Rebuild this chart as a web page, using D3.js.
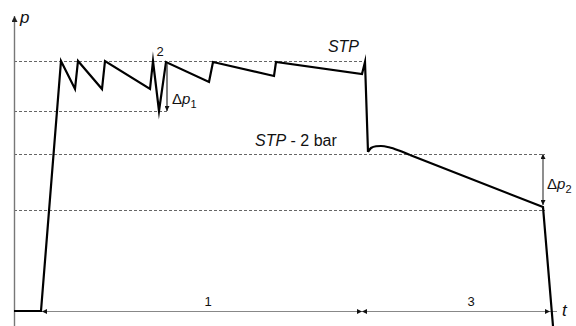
<!DOCTYPE html>
<html>
<head>
<meta charset="utf-8">
<script src="https://cdn.jsdelivr.net/npm/d3@7"></script>
<style>
  html, body { margin: 0; padding: 0; background: #fff; }
  svg { display: block; }
  text { font-family: "Liberation Sans", Arial, sans-serif; fill: #111; }
</style>
</head>
<body>
<svg id="chart" width="576" height="326"></svg>
<script>
// Pressure profile over time (schematic units: t in s, p in % of the upper level)
const profileT = [0, 5.4, 9.4, 12.2, 12.8, 17.6, 18.2, 27.2, 27.8, 29.0, 30.4, 39.0, 39.8, 52.0, 52.4, 69.6, 70.2, 70.8];
const profileP = [0, 0, 100, 88.8, 100, 88.8, 100, 88.8, 100, 80, 99.6, 91.6, 99.6, 94.0, 99.6, 94.8, 99.6, 63.6];

// Small rise after the pressure drop, then the slow decay
const humpT = [70.8, 71.4, 72.4, 73.4, 75.0, 77.0, 79.2];
const humpP = [63.6, 65.2, 65.9, 66.0, 65.5, 64.2, 62.4];
const decayT = [79.2, 105.8, 107.8];
const decayP = [62.4, 41.6, -6];

// Dashed reference levels and how far they run
const levelP = [100, 80, 62.8, 40.4];
const levelEndT = [70.2, 30.6, 106.2, 106.2];

// Phase dimension lines along the time axis
const phaseFrom = [5.6, 69.6];
const phaseTo = [69.6, 107.2];
const phaseLabel = ["1", "3"];
const phaseLabelT = [38.8, 91.4];

// Pressure differences
const deltaT = [30.6, 105.8];
const deltaTop = [99.2, 62.8];
const deltaBottom = [80, 42.4];

const svg = d3.select("#chart");
const x = d3.scaleLinear().domain([0, 110]).range([14, 564]);
const y = d3.scaleLinear().domain([0, 100]).range([311, 61]);

const defs = svg.append("defs");
function marker(id, color, w, h) {
  defs.append("marker")
    .attr("id", id)
    .attr("viewBox", "0 0 10 10")
    .attr("refX", 10).attr("refY", 5)
    .attr("markerUnits", "userSpaceOnUse")
    .attr("markerWidth", w).attr("markerHeight", h)
    .attr("orient", "auto-start-reverse")
    .append("path")
    .attr("d", "M0,0 L10,5 L0,10 Z")
    .attr("fill", color);
}
marker("arrowAxis", "#222", 7, 6);
marker("arrowDim", "#111", 6, 5);

// dashed reference levels
svg.append("g").selectAll("line")
  .data(levelP)
  .join("line")
  .attr("x1", x(0))
  .attr("x2", (d, i) => x(levelEndT[i]))
  .attr("y1", d => Math.round(y(d)) + 0.5)
  .attr("y2", d => Math.round(y(d)) + 0.5)
  .attr("stroke", "#666")
  .attr("stroke-width", 1)
  .attr("stroke-dasharray", "3,2");

// time axis line (gray)
svg.append("line")
  .attr("x1", x(0)).attr("x2", x(108.6))
  .attr("y1", y(0) + 0.5).attr("y2", y(0) + 0.5)
  .attr("stroke", "#888").attr("stroke-width", 1.2);

// pressure axis with arrow
svg.append("line")
  .attr("x1", x(0) + 0.5).attr("x2", x(0) + 0.5)
  .attr("y1", 326).attr("y2", 16)
  .attr("stroke", "#777").attr("stroke-width", 1.4)
  .attr("marker-end", "url(#arrowAxis)");

// phase dimension arrows
phaseFrom.forEach((f, i) => {
  svg.append("line")
    .attr("x1", x(f)).attr("x2", x(phaseTo[i]))
    .attr("y1", y(0) + 0.5).attr("y2", y(0) + 0.5)
    .attr("stroke", "none")
    .attr("marker-start", "url(#arrowDim)")
    .attr("marker-end", "url(#arrowDim)");
  svg.append("text")
    .attr("x", x(phaseLabelT[i]))
    .attr("y", y(0) - 5)
    .attr("text-anchor", "middle")
    .attr("font-size", 13)
    .attr("fill", "#333")
    .text(phaseLabel[i]);
});

// pressure profile
const line = d3.line().x(d => x(d[0])).y(d => y(d[1]));
const curve = d3.line().x(d => x(d[0])).y(d => y(d[1])).curve(d3.curveMonotoneX);
const stroke = (sel) => sel.attr("fill", "none").attr("stroke", "#000")
  .attr("stroke-width", 2.2).attr("stroke-linejoin", "miter").attr("stroke-miterlimit", 20);

svg.append("path").datum(d3.zip(profileT, profileP)).attr("d", line).call(stroke);
svg.append("path").datum(d3.zip(humpT, humpP)).attr("d", curve).call(stroke);
svg.append("path").datum(d3.zip(decayT, decayP)).attr("d", line).call(stroke);

// pressure difference arrows
svg.append("line")
  .attr("x1", x(deltaT[0])).attr("x2", x(deltaT[0]))
  .attr("y1", y(deltaTop[0])).attr("y2", y(deltaBottom[0]))
  .attr("stroke", "#222").attr("stroke-width", 1.2)
  .attr("marker-end", "url(#arrowDim)");
svg.append("line")
  .attr("x1", x(deltaT[1])).attr("x2", x(deltaT[1]))
  .attr("y1", y(deltaTop[1])).attr("y2", y(deltaBottom[1]))
  .attr("stroke", "#444").attr("stroke-width", 1.2)
  .attr("marker-start", "url(#arrowDim)")
  .attr("marker-end", "url(#arrowDim)");

function deltaLabel(tx, ty, sub) {
  const t = svg.append("text").attr("x", tx).attr("y", ty).attr("font-size", 15);
  t.append("tspan").text("Δ");
  t.append("tspan").attr("font-style", "italic").text("p");
  t.append("tspan").attr("font-size", 11).attr("dy", 4).text(sub);
}
deltaLabel(x(deltaT[0]) + 5, y(deltaBottom[0]) - 7, "1");
deltaLabel(x(deltaT[1]) + 4, y(deltaBottom[1]) - 16, "2");

// level labels
svg.append("text")
  .attr("x", x(70.2) - 6).attr("y", y(100) - 9)
  .attr("text-anchor", "end")
  .attr("font-size", 16)
  .attr("font-style", "italic")
  .text("STP");

const lvl = svg.append("text")
  .attr("x", x(48.2)).attr("y", y(62.8) - 8)
  .attr("font-size", 16);
lvl.append("tspan").attr("font-style", "italic").text("STP");
lvl.append("tspan").text(" - 2 bar");

svg.append("text")
  .attr("x", x(29.2)).attr("y", y(100) - 5)
  .attr("text-anchor", "middle")
  .attr("font-size", 13)
  .text("2");

// axis names
svg.append("text")
  .attr("x", 20).attr("y", 23)
  .attr("font-size", 17).attr("font-style", "italic")
  .text("p");
svg.append("text")
  .attr("x", 562).attr("y", 316)
  .attr("font-size", 17).attr("font-style", "italic")
  .text("t");
</script>
</body>
</html>
